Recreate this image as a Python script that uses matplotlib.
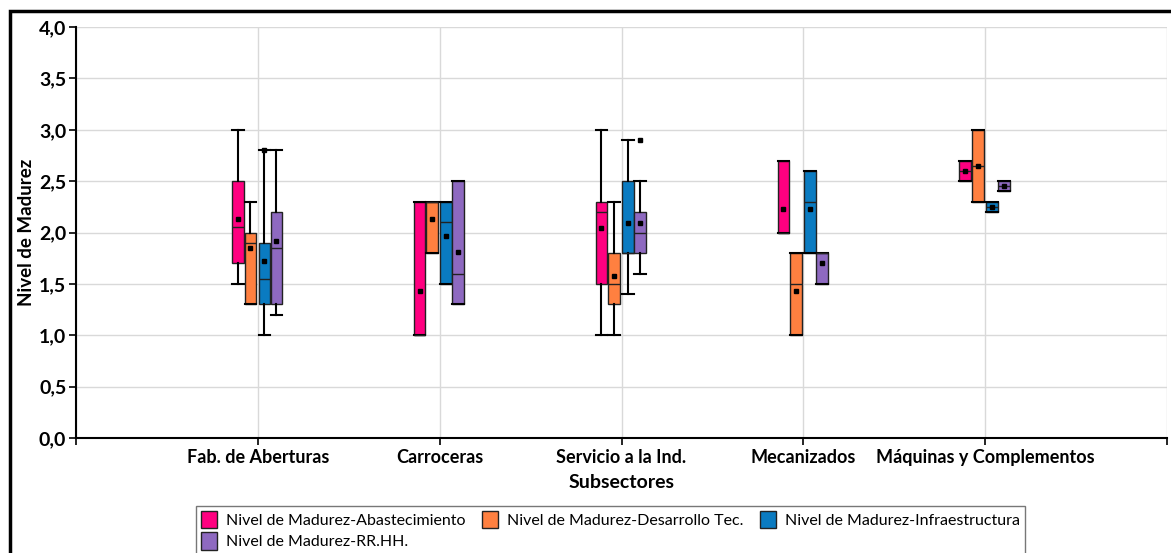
import matplotlib.pyplot as plt
import matplotlib.patches as mpatches
from matplotlib.ticker import FuncFormatter

plt.rcParams['font.family'] = ['Lato', 'DejaVu Sans']

subsectores = ['Fab. de Aberturas', 'Carroceras', 'Servicio a la Ind.',
               'Mecanizados', 'Máquinas y Complementos']

series_names = ['Nivel de Madurez-Abastecimiento', 'Nivel de Madurez-Desarrollo Tec.',
                'Nivel de Madurez-Infraestructura', 'Nivel de Madurez-RR.HH.']
colors = ['#FF0080', '#FF8040', '#0A7BC1', '#8E69C0']

# Abastecimiento
abast_lo = [1.5, 1.0, 1.0, 2.0, 2.5]
abast_q1 = [1.7, 1.0, 1.5, 2.0, 2.5]
abast_med = [2.05, 1.0, 2.2, 2.0, 2.6]
abast_q3 = [2.5, 2.3, 2.3, 2.7, 2.7]
abast_hi = [3.0, 2.3, 3.0, 2.7, 2.7]
abast_mean = [2.13, 1.43, 2.04, 2.23, 2.6]
abast_out = [[], [], [], [], []]

# Desarrollo Tec.
desa_lo = [1.3, 1.8, 1.0, 1.0, 2.3]
desa_q1 = [1.3, 1.8, 1.3, 1.0, 2.3]
desa_med = [1.9, 2.3, 1.5, 1.5, 2.65]
desa_q3 = [2.0, 2.3, 1.8, 1.8, 3.0]
desa_hi = [2.3, 2.3, 2.3, 1.8, 3.0]
desa_mean = [1.85, 2.13, 1.58, 1.43, 2.65]
desa_out = [[], [], [], [], []]

# Infraestructura
infra_lo = [1.0, 1.5, 1.4, 1.8, 2.2]
infra_q1 = [1.3, 1.5, 1.8, 1.8, 2.2]
infra_med = [1.55, 2.1, 1.8, 2.3, 2.25]
infra_q3 = [1.9, 2.3, 2.5, 2.6, 2.3]
infra_hi = [2.8, 2.3, 2.9, 2.6, 2.3]
infra_mean = [1.72, 1.97, 2.09, 2.23, 2.25]
infra_out = [[2.8], [], [], [], []]

# RR.HH.
rrhh_lo = [1.2, 1.3, 1.6, 1.5, 2.4]
rrhh_q1 = [1.3, 1.3, 1.8, 1.5, 2.4]
rrhh_med = [1.85, 1.6, 2.0, 1.8, 2.45]
rrhh_q3 = [2.2, 2.5, 2.2, 1.8, 2.5]
rrhh_hi = [2.8, 2.5, 2.5, 1.8, 2.5]
rrhh_mean = [1.92, 1.81, 2.09, 1.7, 2.45]
rrhh_out = [[], [], [2.9], [], []]

series = [
    (abast_lo, abast_q1, abast_med, abast_q3, abast_hi, abast_mean, abast_out),
    (desa_lo, desa_q1, desa_med, desa_q3, desa_hi, desa_mean, desa_out),
    (infra_lo, infra_q1, infra_med, infra_q3, infra_hi, infra_mean, infra_out),
    (rrhh_lo, rrhh_q1, rrhh_med, rrhh_q3, rrhh_hi, rrhh_mean, rrhh_out),
]

offsets = [-0.110, -0.041, 0.036, 0.102]
box_w = 0.064

fig = plt.figure(figsize=(11.71, 5.53), dpi=100)
ax = fig.add_axes([76 / 1171, 115 / 553, 1091 / 1171, 411 / 553])

for k, (lo, q1, med, q3, hi, mean, out) in enumerate(series):
    stats = []
    for i in range(len(subsectores)):
        stats.append(dict(whislo=lo[i], q1=q1[i], med=med[i], q3=q3[i],
                          whishi=hi[i], mean=mean[i], fliers=out[i]))
    pos = [i + 1 + offsets[k] for i in range(len(subsectores))]
    ax.bxp(stats, positions=pos, widths=box_w, capwidths=box_w,
           patch_artist=True, showmeans=True, manage_ticks=False,
           boxprops=dict(facecolor=colors[k], edgecolor='#222222', linewidth=1),
           medianprops=dict(color='#222222', linewidth=1),
           whiskerprops=dict(color='black', linewidth=1.5),
           capprops=dict(color='black', linewidth=1.5),
           meanprops=dict(marker='s', markersize=3.5, markerfacecolor='black',
                          markeredgecolor='black'),
           flierprops=dict(marker='s', markersize=3.5, markerfacecolor='black',
                           markeredgecolor='black'),
           zorder=3)

ax.set_xlim(0, 6)
ax.set_ylim(0, 4)
ax.set_yticks([i * 0.5 for i in range(9)])
ax.yaxis.set_major_formatter(FuncFormatter(lambda v, p: f'{v:.1f}'.replace('.', ',')))
ax.set_xticks(range(7))
ax.set_xticklabels([''] + subsectores + [''])

ax.grid(True, color='#d9d9d9', linewidth=1, zorder=0)
ax.set_axisbelow(True)
for side in ['top', 'right']:
    ax.spines[side].set_visible(False)
ax.spines['left'].set_linewidth(1.5)
ax.spines['bottom'].set_linewidth(1.5)
ax.tick_params(axis='both', direction='out', length=5, width=1.2, colors='black')
ax.tick_params(axis='y', labelsize=14, pad=2)
ax.tick_params(axis='x', labelsize=13, pad=3)
for lbl in ax.get_xticklabels() + ax.get_yticklabels():
    lbl.set_fontweight('bold')

ax.set_ylabel('Nivel de Madurez', fontsize=13.5, fontweight='bold', labelpad=3)
ax.set_xlabel('Subsectores', fontsize=14, fontweight='bold', labelpad=6)

handles = [mpatches.Patch(facecolor=c, edgecolor='#222222', linewidth=1) for c in colors]
order = [0, 3, 1, 2]
fig.legend([handles[i] for i in order], [series_names[i] for i in order],
           loc='upper left', bbox_to_anchor=(196 / 1171, 47 / 553), ncol=3,
           fontsize=11.5, frameon=True, fancybox=False, edgecolor='#555555',
           handlelength=1.0, handleheight=1.3, handletextpad=0.6,
           columnspacing=1.0, borderpad=0.3, labelspacing=0.25,
           borderaxespad=0)

# outer chart frame
fig.patches.append(mpatches.Rectangle((10 / 1171, -0.1), 1.2, (542 / 553) + 0.1,
                                      transform=fig.transFigure, fill=False,
                                      edgecolor='black', linewidth=2.5))

fig.savefig('out.png', dpi=100)
